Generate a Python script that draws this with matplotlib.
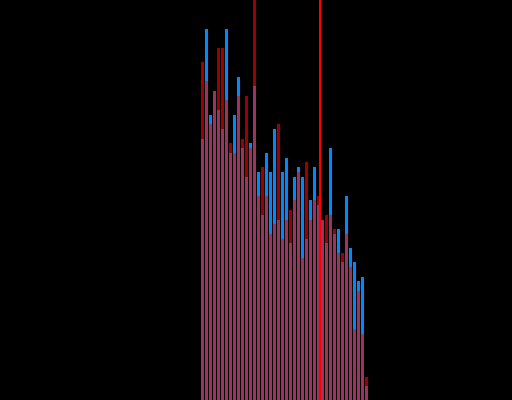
import matplotlib
matplotlib.use("Agg")
import matplotlib.pyplot as plt
import numpy as np

# Bin counts for the two groups (bins 0..41)
bins = list(range(42))
group_a = [261, 371, 285, 309, 290, 271, 371, 247, 285, 323,
           252, 223, 257, 314, 228, 185, 247, 228, 271, 180,
           228, 242, 157, 223, 233, 223, 161, 200, 233, 195,
           180, 157, 252, 166, 171, 138, 204, 152, 138, 119,
           123, 14]
group_b = [338, 319, 276, 309, 352, 352, 300, 257, 247, 304,
           261, 304, 252, 430, 204, 233, 204, 166, 176, 276,
           161, 180, 190, 200, 228, 142, 238, 180, 200, 204,
           180, 185, 185, 171, 147, 147, 166, 133, 71, 109,
           66, 23]
split_at = 29.5

fig = plt.figure(figsize=(5.12, 4.0), dpi=100, facecolor="black")
ax = fig.add_axes([0, 0, 1, 1])
ax.set_facecolor("black")

ax.bar(bins, group_a, width=0.8, color="#0088ff", linewidth=0)
ax.bar(bins, group_b, width=0.8, color="#ff0000", alpha=0.62, linewidth=0)
ax.axvline(split_at, color="#ff0000", linewidth=1.5)

ax.set_xlim(-50.6, 77.4)
ax.set_ylim(0, 400)
ax.axis("off")

fig.savefig("out.png", dpi=100, facecolor="black")
